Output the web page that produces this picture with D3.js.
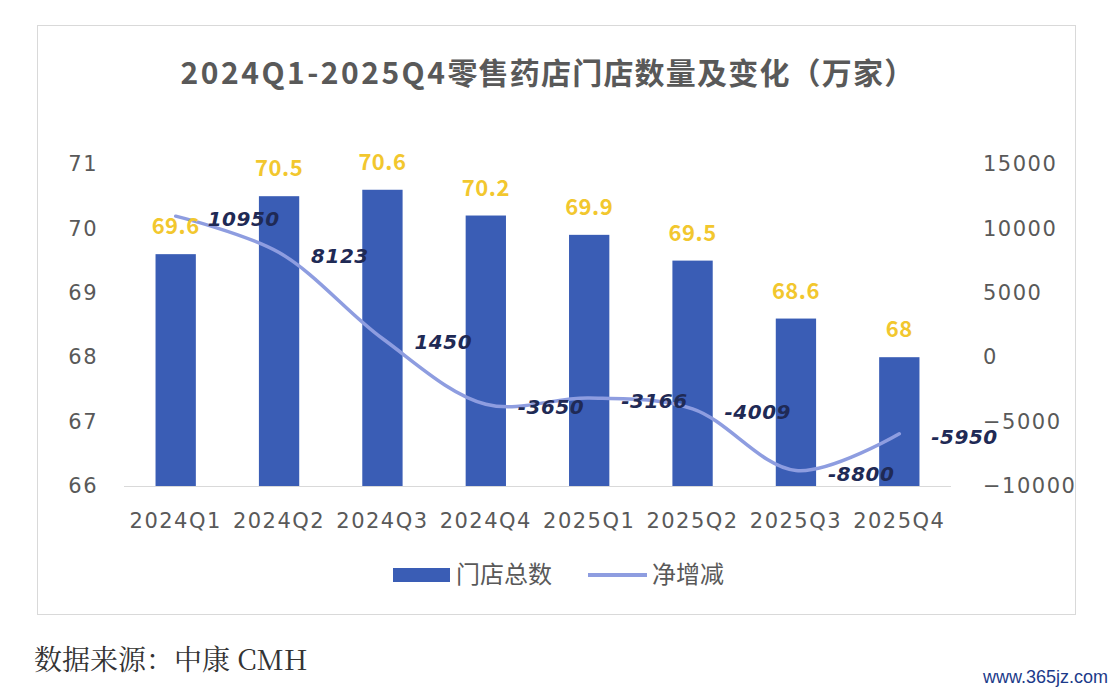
<!DOCTYPE html>
<html>
<head>
<meta charset="utf-8">
<script src="https://cdn.jsdelivr.net/npm/d3@7"></script>
<style>
  body { margin: 0; background: #fff; }
  text { font-family: "Noto Sans CJK SC", "Noto Sans", sans-serif; }
</style>
</head>
<body>
<script>
// data
const quarters = ["2024Q1", "2024Q2", "2024Q3", "2024Q4", "2025Q1", "2025Q2", "2025Q3", "2025Q4"];
const storeTotal = [69.6, 70.5, 70.6, 70.2, 69.9, 69.5, 68.6, 68];
const netChange = [10950, 8123, 1450, -3650, -3166, -4009, -8800, -5950];
const leftTicks = [66, 67, 68, 69, 70, 71];
const rightTicks = [-10000, -5000, 0, 5000, 10000, 15000];

const width = 1114;
const height = 692;
const plot = ({left: 124, right: 951, top: 164, bottom: 486});
const latinFont = "\"DejaVu Sans\", sans-serif";

const svg = d3.select("body").append("svg")
    .attr("width", width)
    .attr("height", height);

// frame
svg.append("rect")
    .attr("x", 37.5).attr("y", 25.5)
    .attr("width", 1038).attr("height", 589)
    .attr("fill", "#fff")
    .attr("stroke", "#d9d9d9");

// title
const title = svg.append("text")
    .attr("x", 548).attr("y", 84)
    .attr("text-anchor", "middle")
    .style("font-size", "30px")
    .style("font-weight", "bold")
    .style("fill", "#595959");
title.append("tspan")
    .style("letter-spacing", "2.5px")
    .text("2024Q1-2025Q4");
title.append("tspan")
    .style("letter-spacing", "1.2px")
    .text("零售药店门店数量及变化（万家）");

// scales
const x = d3.scaleBand()
    .domain(quarters)
    .range([plot.left, plot.right])
    .paddingInner(0.61)
    .paddingOuter(0.305);
const yL = d3.scaleLinear().domain([66, 71]).range([plot.bottom, plot.top]);
const yR = d3.scaleLinear().domain([-10000, 15000]).range([plot.bottom, plot.top]);

// axes
const axisLeft = svg.append("g")
    .attr("transform", `translate(${plot.left - 26},0)`)
    .call(d3.axisLeft(yL).tickValues(leftTicks).tickFormat(d3.format("d")).tickSize(0).tickPadding(0));
const axisRight = svg.append("g")
    .attr("transform", `translate(${plot.right + 32},0)`)
    .call(d3.axisRight(yR).tickValues(rightTicks).tickFormat(d3.format("d")).tickSize(0).tickPadding(0));
const axisBottom = svg.append("g")
    .attr("transform", `translate(0,${plot.bottom})`)
    .call(d3.axisBottom(x).tickSize(0).tickPadding(27));

[axisLeft, axisRight, axisBottom].forEach(g => {
    g.select(".domain").remove();
    g.selectAll("text")
        .style("font-size", "21px")
        .style("letter-spacing", "1.5px")
        .style("fill", "#595959")
        .style("font-family", latinFont);
});

// baseline
svg.append("line")
    .attr("x1", plot.left).attr("x2", plot.right)
    .attr("y1", plot.bottom + 0.5).attr("y2", plot.bottom + 0.5)
    .attr("stroke", "#d9d9d9");

// bars
svg.append("g").selectAll("rect")
    .data(storeTotal)
    .join("rect")
    .attr("x", (d, i) => x(quarters[i]))
    .attr("y", d => yL(d))
    .attr("width", x.bandwidth())
    .attr("height", d => plot.bottom - yL(d))
    .attr("fill", "#3a5db5");

// line
const line = d3.line()
    .x((d, i) => x(quarters[i]) + x.bandwidth() / 2)
    .y(d => yR(d))
    .curve(d3.curveCatmullRom.alpha(0.5));
svg.append("path")
    .datum(netChange)
    .attr("d", line)
    .attr("fill", "none")
    .attr("stroke", "#8e9de0")
    .attr("stroke-width", 3.5)
    .attr("stroke-linecap", "round");

// bar labels
svg.append("g").selectAll("text")
    .data(storeTotal)
    .join("text")
    .attr("x", (d, i) => x(quarters[i]) + x.bandwidth() / 2)
    .attr("y", d => yL(d) - 20)
    .attr("text-anchor", "middle")
    .style("font-size", "22px")
    .style("letter-spacing", "0.5px")
    .style("font-weight", "bold")
    .style("fill", "#f2c72e")
    .text(d => d);

// line labels
svg.append("g").selectAll("text")
    .data(netChange)
    .join("text")
    .attr("x", (d, i) => x(quarters[i]) + x.bandwidth() / 2 + 32)
    .attr("y", d => yR(d) + 10)
    .style("font-family", latinFont)
    .style("font-size", "20px")
    .style("letter-spacing", "0.5px")
    .style("font-weight", "bold")
    .style("font-style", "italic")
    .style("fill", "#1f2a55")
    .text(d => d);

// legend
const legend = svg.append("g").attr("transform", "translate(0,575)");
legend.append("rect")
    .attr("x", 393).attr("y", -7)
    .attr("width", 57).attr("height", 14)
    .attr("fill", "#3a5db5");
legend.append("text")
    .attr("x", 456).attr("y", 8)
    .style("font-size", "24px").style("fill", "#595959")
    .text("门店总数");
legend.append("line")
    .attr("x1", 588).attr("x2", 647)
    .attr("y1", 0).attr("y2", 0)
    .attr("stroke", "#8e9de0").attr("stroke-width", 4);
legend.append("text")
    .attr("x", 652).attr("y", 8)
    .style("font-size", "24px").style("fill", "#595959")
    .text("净增减");

// source
svg.append("text")
    .attr("x", 34).attr("y", 670)
    .style("font-size", "28px")
    .style("fill", "#333")
    .style("font-family", "\"Noto Serif CJK SC\", \"DejaVu Serif\", serif")
    .text("数据来源：中康 CMH");

// watermark
svg.append("text")
    .attr("x", 1108).attr("y", 683)
    .attr("text-anchor", "end")
    .style("font-size", "18px")
    .style("fill", "#1c3a8a")
    .style("font-family", "\"Liberation Sans Narrow\", \"Liberation Sans\", sans-serif")
    .text("www.365jz.com");
</script>
</body>
</html>
